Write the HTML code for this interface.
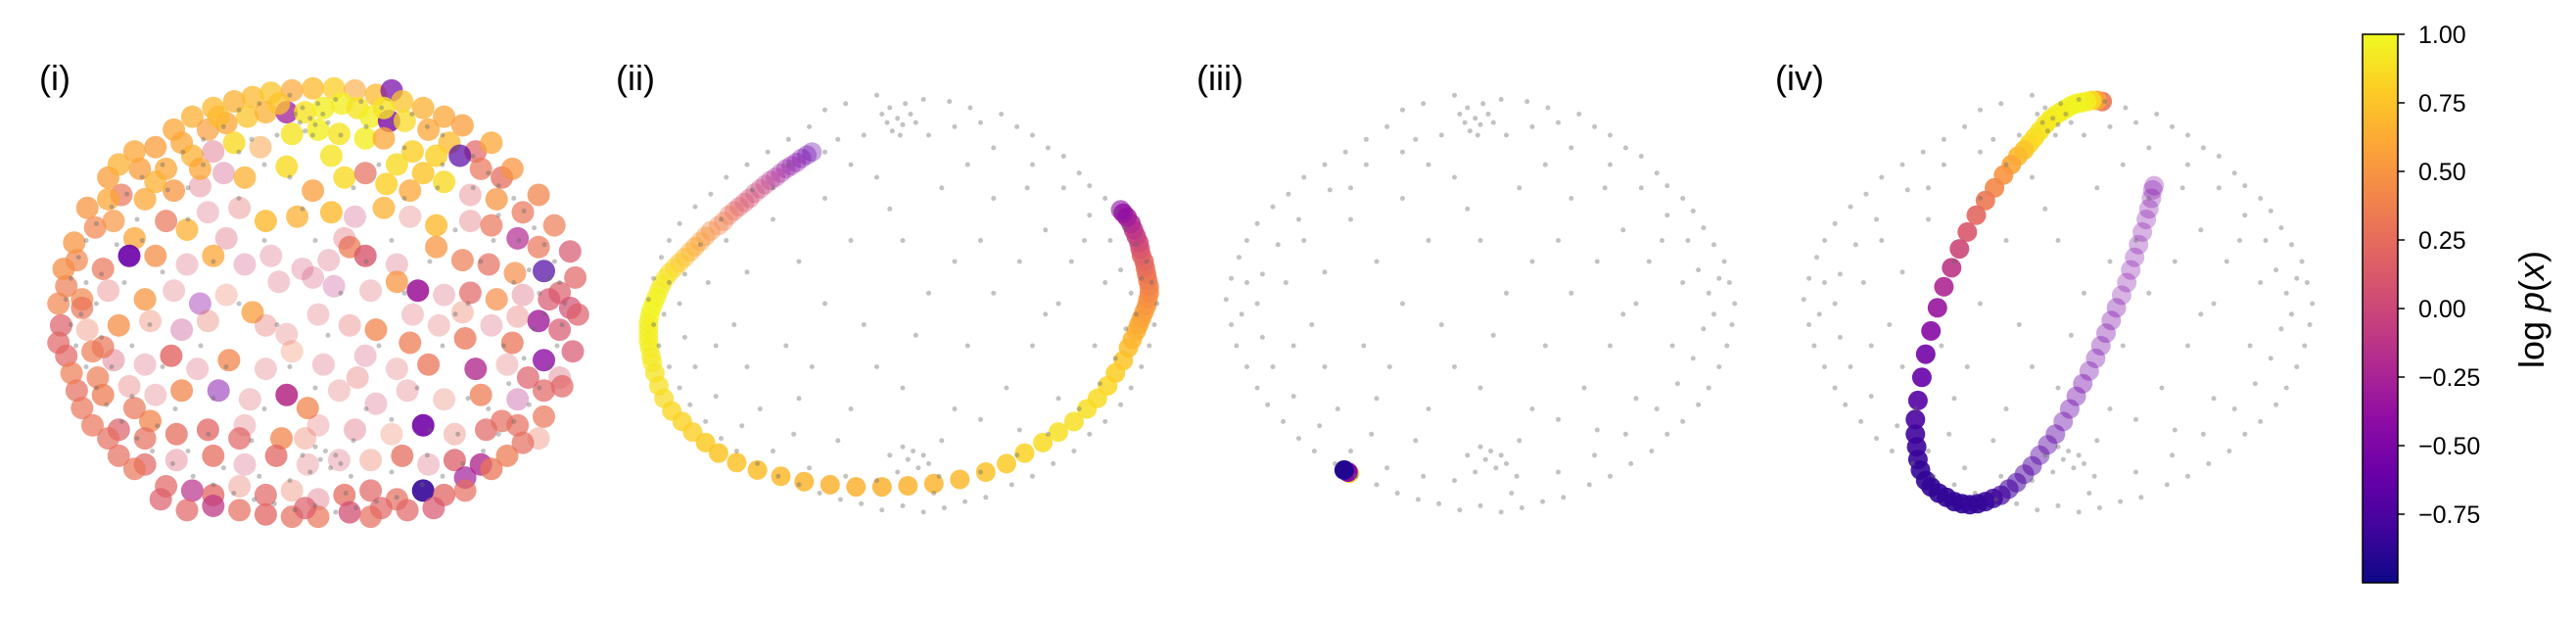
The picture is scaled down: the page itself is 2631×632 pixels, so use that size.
<!DOCTYPE html>
<html><head><meta charset="utf-8"><style>
html,body{margin:0;padding:0;background:#fff;}
svg{display:block;font-family:"Liberation Sans","DejaVu Sans",sans-serif;}
</style></head><body>
<svg id="fig" width="2631" height="632" viewBox="0 0 2631 632" xmlns="http://www.w3.org/2000/svg">
<defs>
<linearGradient id="plasma" x1="0" y1="1" x2="0" y2="0">
<stop offset="0" stop-color="#0d0887"/><stop offset="0.1" stop-color="#41049d"/><stop offset="0.2" stop-color="#6a00a8"/><stop offset="0.3" stop-color="#8f0da4"/><stop offset="0.4" stop-color="#b12a90"/><stop offset="0.5" stop-color="#cc4778"/><stop offset="0.6" stop-color="#e16462"/><stop offset="0.7" stop-color="#f2844b"/><stop offset="0.8" stop-color="#fca636"/><stop offset="0.9" stop-color="#fcce25"/><stop offset="1" stop-color="#f0f921"/>
</linearGradient>
</defs>
<text x="40" y="92" font-size="36">(i)</text>
<text x="629" y="92" font-size="36">(ii)</text>
<text x="1222" y="92" font-size="36">(iii)</text>
<text x="1813" y="92" font-size="36">(iv)</text>
<g id="panels"></g>
<g id="cbar">
<rect x="2413" y="35" width="36" height="560" fill="url(#plasma)" stroke="#000" stroke-width="1.5"/>
</g>
<text transform="translate(2598,316) rotate(-90)" text-anchor="middle" font-size="36">log <tspan font-style="italic">p</tspan>(<tspan font-style="italic">x</tspan>)</text>
</svg>
<script>
// colorbar ticks
const cbTicks = [1.00, 0.75, 0.50, 0.25, 0.00, -0.25, -0.50, -0.75];
const cbMin = -1, cbMax = 1;
// background gray samples (normalized)
const grayPts = [[-0.3,0.92],[-0.22,0.95],[-0.1,0.99],[-0.05,0.93],[-0.02,0.88],[0.0,0.85],[0.03,0.9],[-0.04,0.82],[0.08,0.97],[0.18,0.96],[0.26,0.93],[0.3,0.86],[0.38,0.9],[0.44,0.84],[0.5,0.8],[0.56,0.74],[0.62,0.7],[0.68,0.62],[0.72,0.56],[0.78,0.5],[0.82,0.44],[0.86,0.36],[0.9,0.28],[0.94,0.2],[0.96,0.1],[0.98,0.0],[0.97,-0.1],[0.95,-0.2],[0.92,-0.3],[0.88,-0.4],[0.84,-0.48],[0.78,-0.56],[0.72,-0.62],[0.66,-0.7],[0.58,-0.76],[0.5,-0.82],[0.42,-0.86],[0.32,-0.92],[0.24,-0.94],[0.16,-0.97],[0.08,-0.99],[0.0,-0.96],[-0.08,-0.98],[-0.16,-0.95],[-0.24,-0.93],[-0.32,-0.9],[-0.4,-0.86],[-0.48,-0.82],[-0.56,-0.76],[-0.64,-0.7],[-0.7,-0.64],[-0.76,-0.56],[-0.82,-0.48],[-0.86,-0.4],[-0.9,-0.3],[-0.94,-0.2],[-0.96,-0.1],[-0.98,0.02],[-0.96,0.12],[-0.93,0.22],[-0.9,0.3],[-0.86,0.38],[-0.8,0.46],[-0.74,0.52],[-0.68,0.6],[-0.6,0.66],[-0.52,0.72],[-0.44,0.78],[-0.36,0.84],[-0.25,0.78],[-0.15,0.8],[0.1,0.8],[0.2,0.84],[0.35,0.74],[0.5,0.66],[0.62,0.55],[0.72,0.42],[0.8,0.3],[0.84,0.16],[0.88,0.05],[0.86,-0.12],[0.82,-0.26],[0.76,-0.38],[0.68,-0.5],[0.56,-0.62],[0.44,-0.72],[0.3,-0.8],[0.14,-0.82],[0.06,-0.78],[0.02,-0.74],[0.08,-0.72],[-0.02,-0.8],[-0.1,-0.84],[-0.22,-0.82],[-0.36,-0.78],[-0.5,-0.7],[-0.62,-0.58],[-0.72,-0.44],[-0.8,-0.3],[-0.84,-0.16],[-0.86,0.0],[-0.84,0.14],[-0.78,0.28],[-0.7,0.4],[-0.58,0.54],[-0.44,0.66],[-0.3,0.72],[-0.5,0.4],[-0.3,0.5],[-0.1,0.6],[0.15,0.55],[0.35,0.5],[0.55,0.35],[0.65,0.2],[0.6,0.0],[0.5,-0.2],[0.4,-0.4],[0.2,-0.5],[0.0,-0.4],[-0.2,-0.5],[-0.4,-0.45],[-0.6,-0.3],[-0.65,-0.1],[-0.6,0.15],[-0.4,0.2],[-0.2,0.3],[0.0,0.3],[0.2,0.2],[0.35,0.05],[0.25,-0.2],[0.05,-0.15],[-0.15,-0.1],[-0.3,0.0],[-0.45,-0.2],[0.1,0.05],[0.45,0.2],[-0.05,0.45],[0.3,0.3],[-0.55,-0.5],[0.6,-0.45],[0.15,-0.65],[-0.25,-0.65],
[-0.08,0.9],[0.01,0.95],[-0.01,0.8],[0.05,0.86],[-0.06,0.86],[0.04,-0.7],[0.1,-0.76],[0.0,-0.68],[-0.05,-0.72],[0.12,-0.9],[-0.9,0.1],[-0.92,-0.05],[-0.75,0.1],[-0.72,-0.2],[-0.68,0.3],[0.9,-0.05],[0.78,0.1],[0.74,-0.2],[0.7,0.3],[0.92,0.12],[0.48,0.55],[0.25,0.66],[-0.2,0.66],[-0.5,0.55],[0.45,-0.6],[-0.42,-0.62],[-0.1,-0.3],[0.3,-0.55],[-0.35,-0.3],[0.55,-0.05]];
// panel (i) samples [x, y, logp, alpha]
const ptsI = [[-0.55,0.80,0.6,0.75],[-0.48,0.86,0.65,0.75],[-0.40,0.90,0.7,0.75],[-0.32,0.93,0.65,0.75],[-0.25,0.95,0.7,0.75],[-0.18,0.97,0.75,0.75],[-0.10,0.98,0.6,0.7],[-0.02,0.99,0.7,0.75],[0.06,0.99,0.8,0.75],[0.14,0.98,0.6,0.6],[0.22,0.96,0.7,0.75],[0.28,0.98,-0.55,0.7],[0.32,0.93,0.75,0.75],[0.40,0.90,0.65,0.75],[0.48,0.86,0.6,0.75],[0.55,0.82,0.55,0.75],
[-0.62,0.72,0.55,0.75],[-0.52,0.74,0.6,0.75],[-0.42,0.80,0.55,0.7],[-0.35,0.83,0.6,0.75],[-0.27,0.86,0.75,0.75],[-0.20,0.88,0.65,0.75],[-0.12,0.88,-0.3,0.75],[-0.05,0.88,0.9,0.8],[0.02,0.90,0.95,0.8],[0.09,0.92,0.95,0.8],[0.15,0.90,0.9,0.8],[0.20,0.86,0.95,0.8],[0.27,0.84,-0.5,0.8],[0.33,0.84,0.85,0.75],[0.42,0.80,0.6,0.75],[0.50,0.74,0.7,0.75],[0.60,0.70,0.2,0.7],
[-0.68,0.62,0.55,0.75],[-0.58,0.62,0.6,0.75],[-0.48,0.68,0.65,0.75],[-0.40,0.70,0.1,0.4],[-0.32,0.74,0.85,0.8],[-0.22,0.72,0.55,0.5],[-0.10,0.78,0.9,0.8],[0.00,0.80,0.95,0.8],[0.08,0.78,0.9,0.8],[0.18,0.76,0.95,0.8],[0.25,0.76,0.6,0.75],[0.36,0.70,0.8,0.8],[0.45,0.68,0.8,0.8],[0.54,0.68,-0.7,0.7],[0.62,0.62,0.3,0.7],[0.70,0.58,0.25,0.75],
[-0.75,0.50,0.3,0.7],[-0.66,0.48,0.6,0.75],[-0.55,0.52,0.5,0.75],[-0.45,0.54,0.1,0.35],[-0.36,0.60,0.0,0.35],[-0.28,0.58,0.65,0.75],[-0.12,0.63,0.85,0.8],[-0.02,0.52,0.55,0.75],[0.10,0.58,0.85,0.8],[0.18,0.60,0.25,0.7],[0.26,0.55,0.8,0.8],[0.35,0.52,0.6,0.75],[0.48,0.56,0.85,0.8],[0.58,0.50,0.15,0.35],[0.68,0.48,0.5,0.75],[0.78,0.42,0.3,0.7],
[-0.85,0.35,0.4,0.7],[-0.78,0.38,0.5,0.7],[-0.70,0.30,0.6,0.75],[-0.58,0.38,0.3,0.7],[-0.50,0.34,0.65,0.75],[-0.42,0.42,0.1,0.3],[-0.30,0.44,0.2,0.35],[-0.20,0.38,0.7,0.8],[-0.08,0.40,0.65,0.75],[0.05,0.42,0.7,0.8],[0.14,0.40,0.0,0.3],[0.25,0.44,0.65,0.75],[0.35,0.40,0.2,0.3],[0.45,0.36,0.7,0.8],[0.58,0.38,0.15,0.35],[0.66,0.36,0.3,0.7],[0.76,0.30,-0.2,0.7],[0.84,0.26,0.3,0.7],
[-0.92,0.20,0.4,0.7],[-0.82,0.16,0.3,0.7],[-0.72,0.22,-0.6,0.9],[-0.62,0.22,0.45,0.75],[-0.50,0.18,0.1,0.3],[-0.40,0.22,0.6,0.75],[-0.28,0.18,0.0,0.3],[-0.18,0.22,0.1,0.3],[-0.06,0.16,0.05,0.3],[0.04,0.20,0.1,0.3],[0.12,0.26,0.35,0.75],[0.18,0.22,0.1,0.8],[0.30,0.18,0.1,0.3],[0.45,0.26,0.5,0.75],[0.55,0.20,0.35,0.7],[0.65,0.18,0.25,0.7],[0.75,0.14,0.45,0.7],[0.86,0.15,-0.75,0.7],[0.92,0.05,0.15,0.7],
[-0.96,0.08,0.35,0.7],[-0.90,0.02,0.4,0.7],[-0.80,0.06,0.2,0.35],[-0.66,0.02,0.5,0.75],[-0.55,0.06,0.15,0.3],[-0.45,0.00,-0.4,0.4],[-0.35,0.04,0.3,0.3],[-0.15,0.10,0.1,0.3],[-0.02,0.12,0.05,0.3],[0.06,0.08,-0.1,0.3],[0.20,0.06,0.15,0.3],[0.30,0.10,0.5,0.75],[0.38,0.06,-0.3,0.9],[0.48,0.04,0.1,0.3],[0.58,0.05,0.2,0.7],[0.68,0.02,0.45,0.7],[0.78,0.04,0.1,0.35],[0.88,0.02,0.1,0.7],[0.96,-0.02,0.05,0.7],
[-0.98,-0.10,0.15,0.7],[-0.88,-0.12,0.3,0.35],[-0.76,-0.10,0.45,0.75],[-0.64,-0.08,0.3,0.35],[-0.52,-0.12,-0.1,0.35],[-0.42,-0.08,0.25,0.35],[-0.25,-0.04,0.55,0.75],[-0.12,-0.14,0.2,0.3],[0.00,-0.05,0.15,0.3],[0.12,-0.10,0.2,0.35],[0.22,-0.12,0.4,0.75],[0.36,-0.05,0.15,0.3],[0.46,-0.10,0.2,0.3],[0.56,-0.16,0.3,0.75],[0.66,-0.10,0.1,0.3],[0.74,-0.18,0.3,0.75],[0.84,-0.08,-0.3,0.8],[0.92,-0.12,0.1,0.7],
[-0.96,-0.24,0.2,0.7],[-0.86,-0.22,0.35,0.7],[-0.78,-0.26,0.1,0.4],[-0.66,-0.28,0.1,0.3],[-0.56,-0.24,0.2,0.8],[-0.46,-0.30,0.1,0.3],[-0.34,-0.26,0.4,0.75],[-0.20,-0.30,0.15,0.3],[-0.10,-0.22,0.35,0.3],[0.02,-0.28,0.1,0.3],[0.18,-0.24,0.05,0.3],[0.30,-0.30,0.2,0.3],[0.42,-0.28,0.3,0.75],[0.60,-0.30,-0.2,0.8],[0.72,-0.28,0.2,0.3],[0.86,-0.26,-0.4,0.8],[0.92,-0.34,0.1,0.35],
[-0.92,-0.40,0.25,0.7],[-0.82,-0.42,0.35,0.75],[-0.72,-0.38,0.2,0.35],[-0.62,-0.42,0.15,0.3],[-0.52,-0.40,0.4,0.75],[-0.38,-0.40,-0.5,0.5],[-0.26,-0.44,0.15,0.3],[-0.12,-0.42,-0.15,0.9],[-0.04,-0.48,0.4,0.75],[0.08,-0.40,0.2,0.3],[0.22,-0.46,0.05,0.3],[0.34,-0.40,0.15,0.3],[0.48,-0.44,0.25,0.3],[0.62,-0.42,0.35,0.75],[0.76,-0.44,-0.15,0.35],[0.86,-0.40,0.2,0.7],
[-0.86,-0.56,0.3,0.7],[-0.76,-0.58,0.15,0.7],[-0.64,-0.54,0.4,0.75],[-0.54,-0.60,0.25,0.75],[-0.42,-0.58,0.2,0.75],[-0.28,-0.56,0.15,0.3],[-0.14,-0.62,0.4,0.75],[0.00,-0.56,0.2,0.3],[0.14,-0.58,0.1,0.35],[0.28,-0.60,0.3,0.3],[0.40,-0.56,-0.55,0.9],[0.52,-0.60,0.25,0.35],[0.64,-0.58,0.2,0.7],[0.76,-0.56,0.25,0.7],[0.84,-0.62,0.3,0.35],
[-0.76,-0.70,0.25,0.7],[-0.66,-0.74,0.2,0.7],[-0.54,-0.72,0.1,0.35],[-0.40,-0.70,0.25,0.75],[-0.28,-0.74,0.05,0.3],[-0.16,-0.70,0.2,0.75],[-0.04,-0.74,0.15,0.3],[0.08,-0.72,0.1,0.3],[0.20,-0.72,0.3,0.35],[0.32,-0.70,0.25,0.75],[0.42,-0.74,0.1,0.3],[0.52,-0.72,0.15,0.75],[0.62,-0.74,-0.2,0.8],[0.72,-0.70,0.35,0.75],
[-0.58,-0.84,0.2,0.7],[-0.48,-0.86,-0.15,0.7],[-0.40,-0.88,0.2,0.75],[-0.30,-0.84,0.25,0.35],[-0.20,-0.88,0.2,0.7],[-0.10,-0.86,0.3,0.35],[0.00,-0.90,0.1,0.35],[0.10,-0.88,0.25,0.75],[0.20,-0.86,0.2,0.7],[0.30,-0.90,0.25,0.7],[0.40,-0.86,-0.85,0.9],[0.48,-0.88,0.2,0.75],[0.56,-0.80,-0.3,0.7],
[-0.30,-0.95,0.25,0.7],[-0.20,-0.97,0.2,0.75],[-0.10,-0.98,0.25,0.7],[0.00,-0.98,0.3,0.7],[0.12,-0.96,0.05,0.75],[0.24,-0.94,0.2,0.7],[0.34,-0.95,0.2,0.7],[-0.40,-0.93,-0.1,0.75],
[-0.93,0.28,0.5,0.75],[-0.97,0.16,0.45,0.75],[-0.99,0.0,0.4,0.7],[-0.99,-0.18,0.2,0.7],[-0.94,-0.32,0.35,0.7],[-0.90,-0.48,0.3,0.7],[-0.80,-0.62,0.25,0.7],[-0.70,-0.76,0.3,0.7],[-0.60,-0.90,0.15,0.7],[-0.50,-0.95,0.2,0.7],[0.44,-0.94,0.1,0.7],[0.56,-0.86,0.25,0.7],[0.66,-0.76,0.3,0.75],[0.78,-0.64,0.25,0.7],[0.86,-0.52,0.3,0.7],[0.93,-0.38,0.2,0.7],[0.97,-0.22,0.1,0.7],[0.99,-0.05,0.15,0.7],[0.98,0.12,0.2,0.7],[0.96,0.24,0.1,0.7],[0.90,0.36,0.35,0.7],[0.84,0.50,0.4,0.75],[0.74,0.62,0.5,0.75],[0.66,0.74,0.6,0.75],[-0.70,0.70,0.6,0.75],[-0.80,0.58,0.55,0.75],[-0.88,0.44,0.5,0.75],[-0.76,0.64,0.65,0.75],
[-0.80,0.48,0.6,0.75],[-0.62,0.56,0.65,0.75],[-0.45,0.62,0.6,0.75],[-0.38,0.86,0.7,0.75],[-0.15,0.92,0.75,0.75],[0.25,0.90,0.9,0.8],[0.05,0.68,0.9,0.8],[0.30,0.64,0.85,0.8],[0.40,0.60,0.75,0.8],[-0.90,-0.02,0.3,0.7],[-0.82,-0.20,0.3,0.7],[-0.70,-0.48,0.3,0.7],[-0.84,-0.34,0.35,0.7],[0.76,-0.06,0.2,0.35],[0.80,-0.34,0.15,0.7],[0.70,-0.54,0.25,0.7],[-0.66,-0.62,0.25,0.7],[-0.30,-0.62,0.2,0.7],[0.15,-0.34,0.2,0.35],[-0.20,-0.10,0.2,0.35],[0.10,0.30,0.15,0.35],[-0.35,0.30,0.1,0.35],[0.55,-0.04,0.3,0.35],[0.35,-0.18,0.35,0.75],[-0.05,-0.62,0.3,0.35],[0.20,-0.98,0.25,0.7],[-0.05,-0.94,0.15,0.7]];
// panel (ii) trajectory [x, y, logp, alpha]
const ptsII = [[-0.35,0.72,-0.65,0.35],[-0.37,0.705,-0.6,0.35],[-0.39,0.69,-0.55,0.35],[-0.41,0.67,-0.5,0.35],[-0.43,0.655,-0.45,0.35],[-0.45,0.64,-0.4,0.35],[-0.47,0.62,-0.3,0.35],[-0.49,0.60,-0.25,0.35],[-0.51,0.585,-0.2,0.35],[-0.53,0.565,-0.1,0.35],[-0.55,0.545,-0.05,0.35],[-0.57,0.525,0.0,0.35],[-0.59,0.50,0.05,0.4],[-0.61,0.48,0.1,0.4],[-0.63,0.46,0.15,0.4],[-0.65,0.44,0.2,0.4],[-0.67,0.42,0.3,0.4],[-0.69,0.39,0.35,0.4],[-0.71,0.37,0.4,0.4],
[-0.74,0.345,0.45,0.45],[-0.76,0.32,0.5,0.45],[-0.78,0.295,0.55,0.45],[-0.80,0.27,0.6,0.5],[-0.82,0.245,0.65,0.5],[-0.84,0.22,0.7,0.5],[-0.86,0.195,0.75,0.55],[-0.88,0.17,0.8,0.55],[-0.90,0.145,0.85,0.6],[-0.915,0.12,0.9,0.6],[-0.93,0.09,0.92,0.65],[-0.94,0.06,0.95,0.65],[-0.95,0.03,0.96,0.7],[-0.96,0.00,0.97,0.7],[-0.97,-0.03,0.97,0.7],[-0.975,-0.06,0.97,0.7],[-0.98,-0.09,0.96,0.7],[-0.98,-0.12,0.96,0.7],[-0.98,-0.15,0.95,0.7],[-0.98,-0.18,0.95,0.7],[-0.975,-0.21,0.94,0.7],[-0.97,-0.25,0.93,0.7],[-0.965,-0.28,0.92,0.7],
[-0.955,-0.33,0.9,0.75],[-0.94,-0.39,0.88,0.75],[-0.92,-0.45,0.86,0.75],[-0.89,-0.51,0.84,0.8],[-0.85,-0.56,0.82,0.8],[-0.81,-0.61,0.8,0.8],[-0.76,-0.66,0.78,0.85],[-0.71,-0.71,0.76,0.85],[-0.64,-0.755,0.74,0.85],[-0.56,-0.79,0.72,0.85],[-0.47,-0.82,0.7,0.85],[-0.38,-0.845,0.68,0.85],[-0.28,-0.86,0.67,0.85],[-0.18,-0.87,0.66,0.85],[-0.08,-0.87,0.66,0.85],[0.02,-0.865,0.67,0.85],[0.12,-0.855,0.68,0.85],[0.22,-0.835,0.7,0.85],[0.32,-0.80,0.74,0.85],[0.40,-0.76,0.78,0.85],[0.47,-0.71,0.82,0.85],[0.54,-0.66,0.86,0.85],[0.60,-0.61,0.88,0.85],[0.66,-0.56,0.88,0.85],[0.71,-0.50,0.88,0.85],[0.75,-0.45,0.86,0.85],[0.79,-0.39,0.84,0.85],[0.82,-0.33,0.8,0.85],[0.85,-0.27,0.76,0.85],[0.87,-0.21,0.72,0.85],
[0.885,-0.17,0.68,0.85],[0.90,-0.13,0.65,0.85],[0.91,-0.10,0.62,0.85],[0.92,-0.07,0.58,0.85],[0.93,-0.04,0.55,0.85],[0.94,-0.01,0.52,0.85],[0.945,0.02,0.48,0.85],[0.95,0.05,0.44,0.85],[0.95,0.08,0.4,0.85],[0.945,0.11,0.36,0.85],[0.94,0.14,0.32,0.85],[0.935,0.17,0.27,0.85],[0.93,0.20,0.22,0.85],[0.92,0.23,0.17,0.85],[0.915,0.26,0.1,0.85],[0.91,0.29,0.03,0.85],[0.90,0.32,-0.05,0.85],[0.89,0.35,-0.12,0.85],[0.88,0.38,-0.2,0.85],[0.865,0.41,-0.28,0.85],[0.85,0.43,-0.35,0.8],[0.84,0.445,-0.42,0.6]];
// panel (iii) samples
const ptsIII = [[-0.505,-0.805,0.8,1.0],[-0.51,-0.80,-0.45,1.0],[-0.525,-0.79,-0.92,1.0]];
// panel (iv) trajectory
const ptsIV = [[0.17,0.96,0.3,0.9],[0.15,0.965,0.6,0.9],[0.13,0.965,0.85,0.9],[0.11,0.96,0.95,0.9],[0.09,0.955,0.96,0.9],[0.07,0.95,0.97,0.9],[0.05,0.94,0.97,0.9],[0.03,0.925,0.97,0.9],[0.01,0.91,0.96,0.9],[-0.01,0.895,0.95,0.9],[-0.03,0.875,0.94,0.9],[-0.05,0.85,0.92,0.9],[-0.07,0.82,0.9,0.9],[-0.09,0.79,0.88,0.9],[-0.11,0.76,0.85,0.9],[-0.13,0.73,0.75,0.9],[-0.155,0.70,0.7,0.9],[-0.18,0.66,0.6,0.9],[-0.21,0.61,0.5,0.9],[-0.245,0.55,0.42,0.9],[-0.28,0.49,0.33,0.9],[-0.315,0.42,0.22,0.9],[-0.35,0.34,0.12,0.9],[-0.38,0.26,0.0,0.9],[-0.41,0.17,-0.12,0.9],[-0.44,0.08,-0.22,0.9],[-0.465,-0.02,-0.35,0.9],[-0.49,-0.13,-0.45,0.9],[-0.51,-0.24,-0.55,0.9],[-0.525,-0.35,-0.62,0.9],[-0.54,-0.46,-0.7,0.9],[-0.55,-0.55,-0.75,0.9],[-0.55,-0.62,-0.8,0.9],[-0.545,-0.68,-0.82,0.9],[-0.54,-0.74,-0.84,0.9],[-0.53,-0.79,-0.85,0.9],[-0.51,-0.84,-0.86,0.9],[-0.49,-0.87,-0.86,0.9],[-0.46,-0.90,-0.86,0.9],[-0.43,-0.92,-0.86,0.9],[-0.40,-0.94,-0.86,0.9],[-0.37,-0.95,-0.86,0.9],[-0.34,-0.955,-0.85,0.9],[-0.31,-0.95,-0.85,0.9],[-0.28,-0.94,-0.85,0.85],[-0.25,-0.925,-0.84,0.8],
[-0.22,-0.91,-0.8,0.7],[-0.19,-0.88,-0.78,0.6],[-0.16,-0.85,-0.76,0.55],[-0.13,-0.81,-0.74,0.5],[-0.10,-0.77,-0.72,0.5],[-0.07,-0.72,-0.7,0.45],[-0.04,-0.67,-0.68,0.45],[-0.01,-0.62,-0.66,0.45],[0.02,-0.56,-0.64,0.4],[0.045,-0.50,-0.62,0.4],[0.07,-0.44,-0.6,0.4],[0.095,-0.38,-0.58,0.4],[0.12,-0.32,-0.57,0.35],[0.145,-0.26,-0.56,0.35],[0.165,-0.20,-0.55,0.35],[0.185,-0.14,-0.54,0.35],[0.205,-0.08,-0.53,0.35],[0.225,-0.02,-0.52,0.35],[0.245,0.04,-0.51,0.3],[0.265,0.10,-0.5,0.3],[0.28,0.16,-0.5,0.3],[0.295,0.22,-0.5,0.3],[0.31,0.28,-0.5,0.3],[0.325,0.34,-0.5,0.3],[0.34,0.40,-0.5,0.3],[0.35,0.45,-0.5,0.3],[0.36,0.50,-0.5,0.3],[0.365,0.54,-0.5,0.3],[0.37,0.56,-0.5,0.3]];

const NS = 'http://www.w3.org/2000/svg';
const stops = [[13,8,135],[65,4,157],[106,0,168],[143,13,164],[177,42,144],[204,71,120],[225,100,98],[242,132,75],[252,166,54],[252,206,37],[240,249,33]];
function plasma(v){
  let t = (v - cbMin) / (cbMax - cbMin); t = Math.max(0, Math.min(1, t));
  const f = t * 10, i = Math.min(9, Math.floor(f)), r = f - i;
  const a = stops[i], b = stops[i+1];
  return 'rgb(' + [0,1,2].map(k => Math.round(a[k] + (b[k]-a[k])*r)).join(',') + ')';
}
const panels = [
  {name:'i', cx:325, cy:310, rx:268, ry:222, gcx:322, gry:215, grx:260, pts:ptsI, r:11.5},
  {name:'ii', cx:922, cy:310, rx:265, ry:215, gcx:922, gry:215, grx:265, pts:ptsII, r:10},
  {name:'iii', cx:1512, cy:310, rx:265, ry:215, gcx:1512, gry:215, grx:265, pts:ptsIII, r:10},
  {name:'iv', cx:2102, cy:310, rx:265, ry:215, gcx:2102, gry:215, grx:265, pts:ptsIV, r:10}
];
const root = document.getElementById('panels');
panels.forEach(p => {
  const g = document.createElementNS(NS, 'g');
  
  
  root.appendChild(g);
  const sx = v => p.cx + v * p.rx, sy = v => p.cy - v * p.ry;
  const gx = v => p.gcx + v * p.grx, gy = v => p.cy - v * p.gry;
  p.pts.forEach(d => {
    const c = document.createElementNS(NS, 'circle');
    
    
    c.setAttribute('cx', sx(d[0]).toFixed(1));
    c.setAttribute('cy', sy(d[1]).toFixed(1));
    c.setAttribute('r', p.r);
    c.setAttribute('fill', plasma(d[2]));
    c.setAttribute('fill-opacity', d[3]);
    g.appendChild(c);
  });
  grayPts.forEach(d => {
    const c = document.createElementNS(NS, 'circle');
    
    
    c.setAttribute('cx', gx(d[0]).toFixed(1));
    c.setAttribute('cy', gy(d[1]).toFixed(1));
    c.setAttribute('r', 2.5);
    c.setAttribute('fill', '#666');
    c.setAttribute('fill-opacity', 0.4);
    g.appendChild(c);
  });
});
// colorbar ticks
const cb = document.getElementById('cbar');
const cy = v => 35 + (cbMax - v) / (cbMax - cbMin) * 560;
cbTicks.forEach(v => {
  const l = document.createElementNS(NS, 'line');
  
  
  l.setAttribute('x1', 2449); l.setAttribute('x2', 2456);
  l.setAttribute('y1', cy(v)); l.setAttribute('y2', cy(v));
  l.setAttribute('stroke', '#000'); l.setAttribute('stroke-width', 1.5);
  cb.appendChild(l);
  const t = document.createElementNS(NS, 'text');
  
  
  t.setAttribute('x', 2470);
  t.setAttribute('y', cy(v) + 9);
  t.setAttribute('font-size', 25);
  t.textContent = (v < 0 ? '\u2212' : '') + Math.abs(v).toFixed(2);
  cb.appendChild(t);
});
</script>
</body></html>
